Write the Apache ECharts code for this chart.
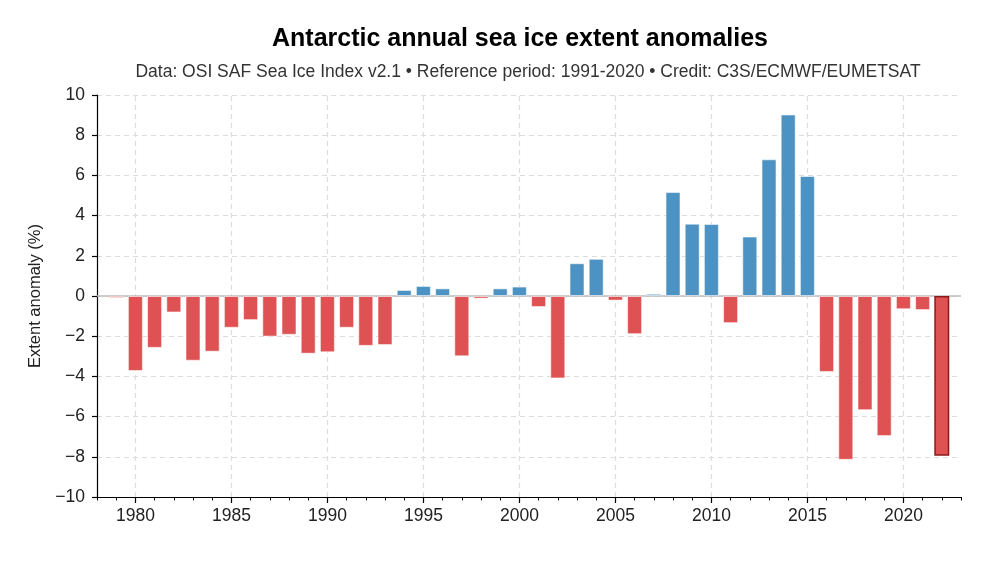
<!DOCTYPE html>
<html>
<head>
<meta charset="utf-8">
<script src="https://cdn.jsdelivr.net/npm/echarts@6/dist/echarts.min.js"></script>
<style>html,body{margin:0;padding:0;background:#fff}#c{width:1000px;height:562px}</style>
</head>
<body>
<div id="c"></div>
<script>
const titleText = 'Antarctic annual sea ice extent anomalies';
const subtitleText = 'Data: OSI SAF Sea Ice Index v2.1 \u2022 Reference period: 1991-2020 \u2022 Credit: C3S/ECMWF/EUMETSAT';
const yAxisName = 'Extent anomaly (%)';
const years = [1979,1980,1981,1982,1983,1984,1985,1986,1987,1988,1989,1990,1991,1992,1993,1994,1995,1996,1997,1998,1999,2000,2001,2002,2003,2004,2005,2006,2007,2008,2009,2010,2011,2012,2013,2014,2015,2016,2017,2018,2019,2020,2021,2022];
const anomalies = [-0.1,-3.73,-2.58,-0.82,-3.22,-2.77,-1.58,-1.2,-2.02,-1.93,-2.87,-2.8,-1.58,-2.48,-2.44,0.3,0.5,0.38,-3.0,-0.13,0.38,0.47,-0.55,-4.1,1.63,1.85,-0.23,-1.9,0.11,5.17,3.6,3.58,-1.35,2.96,6.8,9.03,5.97,-3.78,-8.15,-5.68,-6.97,-0.66,-0.7,-7.95];
const majorYears = [1980,1985,1990,1995,2000,2005,2010,2015,2020];
const yTicks = [-10,-8,-6,-4,-2,0,2,4,6,8,10];
const highlightYear = 2022;

const BLUE = '#4c92c3', RED = '#de5253';
const FONT = '"Liberation Sans", Arial, sans-serif';

const barData = years.map((y, i) => {
  const v = anomalies[i];
  const item = { value: [y, v], itemStyle: { color: v >= 0 ? BLUE : RED } };
  if (y === highlightYear) item.itemStyle = { color: RED, borderColor: '#8b1a1a', borderWidth: 1.5 };
  return item;
});

const chart = echarts.init(document.getElementById('c'), null, { renderer: 'canvas' });
const gridLine = { color: '#dcdcdc', width: 1.2, type: [5, 4] };
chart.setOption({
  animation: false,
  backgroundColor: '#fff',
  title: [
    { text: titleText, left: 515, top: 22, textAlign: 'center',
      textStyle: { fontFamily: FONT, fontSize: 25, fontWeight: 'bold', color: '#000' } },
    { text: subtitleText, left: 523, top: 58, textAlign: 'center',
      textStyle: { fontFamily: FONT, fontSize: 17.5, fontWeight: 'normal', color: '#333' } }
  ],
  grid: { left: 97, right: 39, top: 95, bottom: 65 },
  xAxis: [
    { type: 'value', min: 1978, max: 2023, interval: 1,
      axisLine: { show: true, onZero: false, lineStyle: { color: '#000', width: 1.2 } },
      axisTick: { show: true, length: 3.5, lineStyle: { color: '#000', width: 1 } },
      axisLabel: { show: false },
      splitLine: { show: false } },
    { type: 'value', min: 1978, max: 2023, interval: 1, position: 'bottom',
      axisLine: { show: false, onZero: false },
      axisTick: { show: true, length: 6, customValues: majorYears, lineStyle: { color: '#000', width: 1.2 } },
      axisLabel: { show: true, customValues: majorYears, margin: 10, color: '#222', fontFamily: FONT, fontSize: 17.5,
        formatter: v => String(v) },
      splitLine: { show: false } }
  ],
  yAxis: {
    type: 'value', min: -10, max: 10, interval: 2,
    name: yAxisName, nameLocation: 'middle', nameGap: 52, nameRotate: 90,
    nameTextStyle: { fontFamily: FONT, fontSize: 16.5, color: '#222' },
    axisLine: { show: true, onZero: false, lineStyle: { color: '#000', width: 1.2 } },
    axisTick: { show: true, length: 5, lineStyle: { color: '#000', width: 1.2 } },
    axisLabel: { margin: 12, color: '#222', fontFamily: FONT, fontSize: 17.5,
      formatter: v => String(v).replace('-', '\u2212'), customValues: yTicks },
    splitLine: { show: true, lineStyle: gridLine }
  },
  series: [
    { type: 'line', data: [], zlevel: 0, z: 1, silent: true,
      markLine: { silent: true, symbol: 'none', label: { show: false },
        lineStyle: gridLine,
        data: majorYears.map(y => ({ xAxis: y })) } },
    { type: 'bar', data: barData, barWidth: 15, zlevel: 1, z: 3,
      itemStyle: { borderColor: 'rgba(255,255,255,0.55)', borderWidth: 1 },
      markLine: { silent: true, symbol: 'none', label: { show: false },
        lineStyle: { color: '#bdbdbd', width: 1.6, type: 'solid' },
        data: [{ yAxis: 0 }] } }
  ]
});
</script>
</body>
</html>
